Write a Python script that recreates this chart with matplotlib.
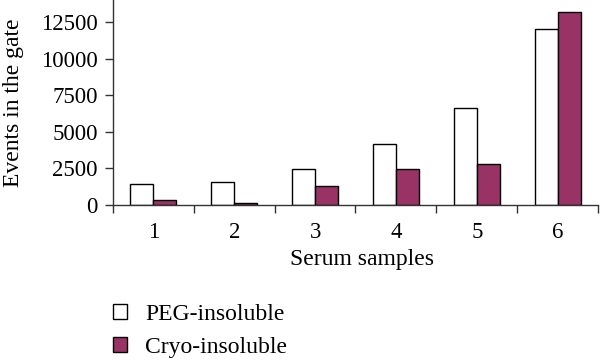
import matplotlib

matplotlib.use("Agg")
import matplotlib.pyplot as plt
import numpy as np
from matplotlib.patches import Patch

samples = ["1", "2", "3", "4", "5", "6"]
peg_insoluble = [1450, 1560, 2430, 4200, 6650, 12050]
cryo_insoluble = [340, 170, 1300, 2430, 2830, 13200]
yticks = [0, 2500, 5000, 7500, 10000, 12500]

PURPLE = "#993366"
AXIS = "#333333"

plt.rcParams["font.family"] = ["Liberation Serif", "DejaVu Serif"]

fig = plt.figure(figsize=(6, 3.62), dpi=100)
ax = fig.add_axes([0.1883, 0.4337, 0.8084, 0.5663])

x = np.arange(1, len(samples) + 1)
w = 0.285
ax.bar(x - w / 2, peg_insoluble, w, color="white", edgecolor="black", lw=1.0,
       label="PEG-insoluble")
ax.bar(x + w / 2, cryo_insoluble, w, color=PURPLE, edgecolor="black", lw=1.0,
       label="Cryo-insoluble")

ax.set_xlim(0.5, len(samples) + 0.5)
ax.set_ylim(0, 14000)
ax.set_yticks(yticks)
ax.set_xticks(x)
ax.set_xticklabels(samples)
ax.set_xticks(np.arange(0.5, len(samples) + 1), minor=True)
ax.tick_params(axis="x", which="major", length=0, pad=12, labelsize=16.5)
ax.tick_params(axis="x", which="minor", length=6, width=1, color=AXIS, direction="out")
ax.tick_params(axis="y", length=6, width=1, color=AXIS, labelsize=16.5, pad=5)

for s in ("top", "right"):
    ax.spines[s].set_visible(False)
for s in ("left", "bottom"):
    ax.spines[s].set_color(AXIS)
    ax.spines[s].set_linewidth(1)

ax.set_ylabel("Events in the gate", fontsize=17, labelpad=12)
ax.set_xlabel("Serum samples", fontsize=17)
ax.xaxis.set_label_coords(0.513, -0.215)

handles = [Patch(facecolor="white", edgecolor="black", lw=1, label="PEG-insoluble"),
           Patch(facecolor=PURPLE, edgecolor="black", lw=1, label="Cryo-insoluble")]
fig.legend(handles=handles, loc="upper left", bbox_to_anchor=(0.188, 0.16),
           frameon=False, fontsize=17, handlelength=0.62, handleheight=0.62,
           handletextpad=0.75, labelspacing=0.5, borderpad=0, borderaxespad=0)

fig.savefig("out.png", dpi=100)
